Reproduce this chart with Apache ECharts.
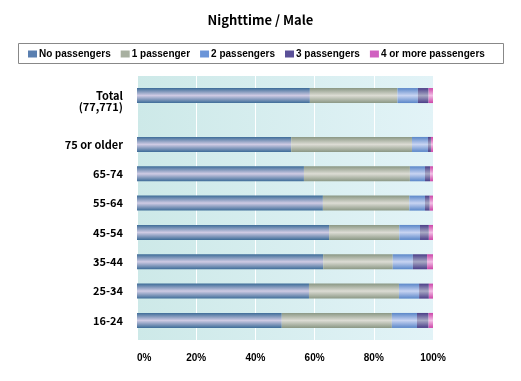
<!DOCTYPE html>
<html><head><meta charset="utf-8">
<script src="https://cdn.jsdelivr.net/npm/echarts@6/dist/echarts.min.js"></script>
<style>html,body{margin:0;padding:0;background:#fff}#c{width:521px;height:381px}</style>
</head><body><div id="c"></div>
<script>
const categories = ['Total\n(77,771)', '75 or older', '65-74', '55-64', '45-54', '35-44', '25-34', '16-24'];
const seriesNames = ['No passengers', '1 passenger', '2 passengers', '3 passengers', '4 or more passengers'];
const noPassengers = [58.4, 52.1, 56.4, 62.8, 64.9, 62.9, 58.1, 48.9];
const onePassenger = [29.6, 40.8, 35.8, 29.2, 23.7, 23.5, 30.4, 37.2];
const twoPassengers = [6.9, 5.4, 5.1, 5.3, 7.0, 6.8, 6.8, 8.5];
const threePassengers = [3.6, 1.0, 1.7, 1.6, 3.0, 4.8, 3.3, 3.9];
const fourPlus = [1.5, 0.7, 1.0, 1.1, 1.4, 2.0, 1.4, 1.5];
const xTicks = ['0%', '20%', '40%', '60%', '80%', '100%'];

// slot layout: Total at slot 2, then a wider gap, ages every 3 slots
const slotIndex = [2, 7, 10, 13, 16, 19, 22, 25];
const nSlots = 28;
const axisData = new Array(nSlots).fill('');
slotIndex.forEach((s, i) => { axisData[s] = categories[i]; });
function toSlots(arr) {
  const out = new Array(nSlots).fill(null);
  slotIndex.forEach((s, i) => { out[s] = arr[i]; });
  return out;
}
const G = echarts.graphic.LinearGradient;
function barGrad(edge, mid) {
  return new G(0, 0, 0, 1, [
    {offset: 0, color: edge}, {offset: 0.5, color: mid}, {offset: 1, color: edge}
  ]);
}
const styles = [
  ['#3d6c98', '#cfcbe4'],
  ['#8a9784', '#dcdcd4'],
  ['#5a86c8', '#c8d4f2'],
  ['#4a3e88', '#a8a8c4'],
  ['#cc44a8', '#f2c0e6']
];
const legendColors = ['#5a7fb0', '#a8b0a0', '#6a94d8', '#5a5098', '#d060c0'];
const allData = [noPassengers, onePassenger, twoPassengers, threePassengers, fourPlus];
const FONT = '"Noto Sans CJK JP", "DejaVu Sans", sans-serif';
const LFONT = '"Liberation Sans", Arial, sans-serif';

const chart = echarts.init(document.getElementById('c'), null, {renderer: 'canvas'});
chart.setOption({
  animation: false,
  title: {
    text: 'Nighttime / Male', left: 'center', top: 9,
    textStyle: {fontFamily: FONT, fontSize: 13, fontWeight: 'bold', color: '#000'}
  },
  graphic: [{
    type: 'rect', shape: {x: 18.5, y: 43.5, width: 485, height: 20},
    style: {fill: 'none', stroke: '#888', lineWidth: 1}, z: -1
  }],
  legend: {
    left: 28, top: 49, width: 490, padding: 0, itemWidth: 9, itemHeight: 7, itemGap: 10,
    textStyle: {fontFamily: LFONT, fontSize: 10, fontWeight: 'bold', color: '#000', padding: [0, 0, 0, -3]},
    data: seriesNames.map((n, i) => ({name: n, icon: 'rect', itemStyle: {color: legendColors[i]}}))
  },
  grid: {
    left: 137, right: 88, top: 76, bottom: 41, show: true, borderWidth: 0,
    backgroundColor: new G(0, 0, 1, 0, [{offset: 0, color: '#cde9e8'}, {offset: 1, color: '#e2f3f7'}])
  },
  xAxis: {
    type: 'value', min: 0, max: 100, interval: 20,
    axisLine: {show: false}, axisTick: {show: false},
    splitLine: {show: true, lineStyle: {color: '#ffffff', width: 1}},
    axisLabel: {
      margin: 13, fontFamily: LFONT, fontSize: 10, fontWeight: 'bold', color: '#000',
      alignMinLabel: 'left',
      formatter: v => xTicks[Math.round(v / 20)]
    }
  },
  yAxis: {
    type: 'category', inverse: true, boundaryGap: false, data: axisData,
    axisLine: {show: false}, axisTick: {show: false}, splitLine: {show: false},
    axisLabel: {
      interval: 0, margin: 14, fontFamily: FONT, fontSize: 11, fontWeight: 'bold', color: '#000',
      lineHeight: 11.5,
      formatter: v => (v.indexOf('\n') >= 0 ? '\n' + v : v)
    }
  },
  series: allData.map((d, i) => ({
    name: seriesNames[i], type: 'bar', stack: 'all', barWidth: 15,
    data: toSlots(d),
    itemStyle: {color: barGrad(styles[i][0], styles[i][1])}
  }))
});
</script></body></html>
